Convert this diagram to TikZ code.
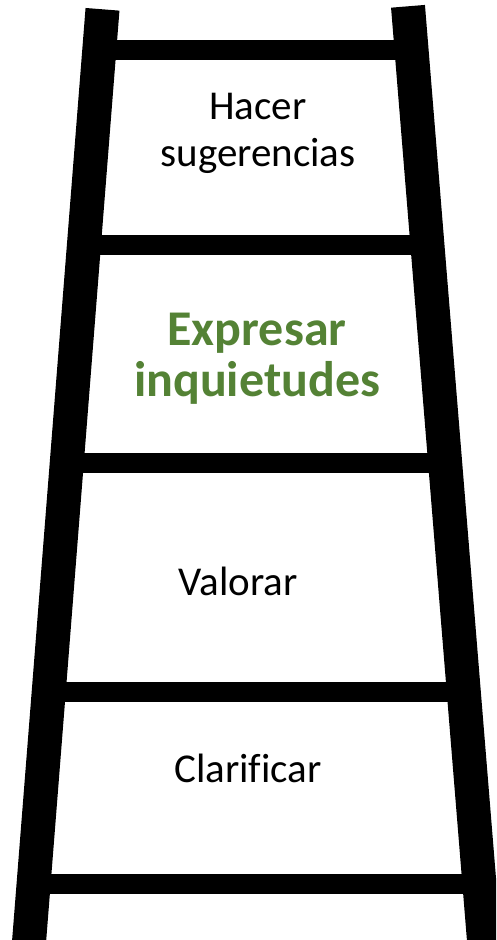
\documentclass[tikz,border=0pt]{standalone}
\usepackage{fontspec}
\setmainfont{Carlito}[Ligatures=NoCommon]
\definecolor{keygreen}{HTML}{548235}
\begin{document}
\begin{tikzpicture}[x=1pt,y=-1pt,
    rail/.style={line width=34pt},
    rung/.style={line width=20pt},
    step label/.style={font=\fontsize{41}{47}\selectfont,align=center,inner sep=0pt,anchor=base},
    key label/.style={step label,font=\bfseries\fontsize{50}{51}\selectfont,text=keygreen}]
  \useasboundingbox (0,0) rectangle (496,940);
  \clip (0,0) rectangle (496,940);

  \coordinate (lt) at (102.5,9.3);
  \coordinate (lb) at (27.6,960);
  \coordinate (rt) at (408,6.3);
  \coordinate (rb) at (485.6,960);

  % rungs
  \foreach \y in {50,245,463,692,883.5}
    \draw[rung] ({102.5-0.0788*(\y-9.3)},\y) -- ({408+0.0816*(\y-6.3)},\y);

  % rails
  \draw[rail] (lt) -- (lb);
  \draw[rail] (rt) -- (rb);

  \path (258,166)   node[step label] (hacer) {Hacer\\sugerencias}
        (257,396)   node[key label] (expresar) {Expresar\\inquietudes}
        (238,595.7) node[step label] (valorar) {Valorar}
        (248,782.7) node[step label] (clarificar) {Clarificar};
\end{tikzpicture}
\end{document}
